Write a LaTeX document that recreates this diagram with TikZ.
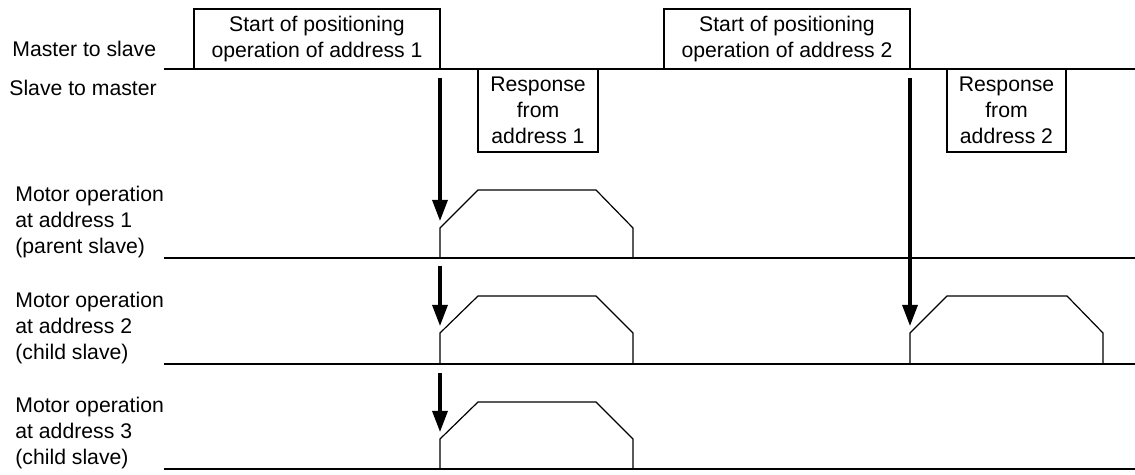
\documentclass[tikz,border=0pt]{standalone}
\usepackage{fontspec}
\setmainfont{Liberation Sans}
\usetikzlibrary{arrows.meta}
\begin{document}
\begin{tikzpicture}[x=0.5pt,y=-0.5pt,
  font=\fontsize{10.6}{13}\selectfont,
  thin/.style={line width=0.6pt},
  msgbox/.style={draw, line width=0.6pt, inner sep=0pt, align=center},
  lbl/.style={anchor=west, align=left, inner sep=0pt},
  trig/.style={line width=1.6pt, -{Triangle[width=7.5pt,length=10.5pt]}},
  motion/.style={line width=0.6pt, line join=miter}]
\useasboundingbox (0,0) rectangle (1135,475);

% labels
\node[lbl] (lms) at (12,49) {Master to slave};
\node[lbl] (lsm) at (9,88) {Slave to master};
\node[lbl] (lm1) at (15,222.5) {Motor operation\\at address 1\\(parent slave)};
\node[lbl] (lm2) at (15,328) {Motor operation\\at address 2\\(child slave)};
\node[lbl] (lm3) at (15,433) {Motor operation\\at address 3\\(child slave)};

% time lines
\coordinate (m0) at (164,69);  \coordinate (m1) at (1135,69);
\coordinate (r10) at (164,258); \coordinate (r11) at (1135,258);
\coordinate (r20) at (164,364); \coordinate (r21) at (1135,364);
\coordinate (r30) at (164,469); \coordinate (r31) at (1135,469);
\draw[thin] (m0) -- (m1);
\draw[thin] (r10) -- (r11);
\draw[thin] (r20) -- (r21);
\draw[thin] (r30) -- (r31);

% message boxes
\node[msgbox, minimum width=123pt, minimum height=30pt] (s1) at (317,39)
  {Start of positioning\\operation of address 1};
\node[msgbox, minimum width=123pt, minimum height=30pt] (s2) at (787,39)
  {Start of positioning\\operation of address 2};
\node[msgbox, minimum width=60pt, minimum height=41.5pt] (p1) at (538,110.5)
  {Response\\from\\address 1};
\node[msgbox, minimum width=59.5pt, minimum height=41.5pt] (p2) at (1006.5,110.5)
  {Response\\from\\address 2};

% motor profiles
\draw[motion] (440,258) -- (440,228) -- (478,190) -- (596,190) -- (633,228) -- (633,258);
\draw[motion] (440,364) -- (440,333) -- (478,296) -- (596,296) -- (633,333) -- (633,364);
\draw[motion] (910,364) -- (910,333) -- (947,296) -- (1067,296) -- (1103,333) -- (1103,364);
\draw[motion] (440,469) -- (440,439) -- (478,402) -- (596,402) -- (633,439) -- (633,469);

% trigger arrows
\coordinate (a1s) at (440,78);  \coordinate (a1e) at (440,221);
\coordinate (a2s) at (440,266); \coordinate (a2e) at (440,326);
\coordinate (a3s) at (440,373); \coordinate (a3e) at (440,432);
\coordinate (a4s) at (910,78);  \coordinate (a4e) at (910,326);
\draw[trig] (a1s) -- (a1e);
\draw[trig] (a2s) -- (a2e);
\draw[trig] (a3s) -- (a3e);
\draw[trig] (a4s) -- (a4e);
\end{tikzpicture}
\end{document}
